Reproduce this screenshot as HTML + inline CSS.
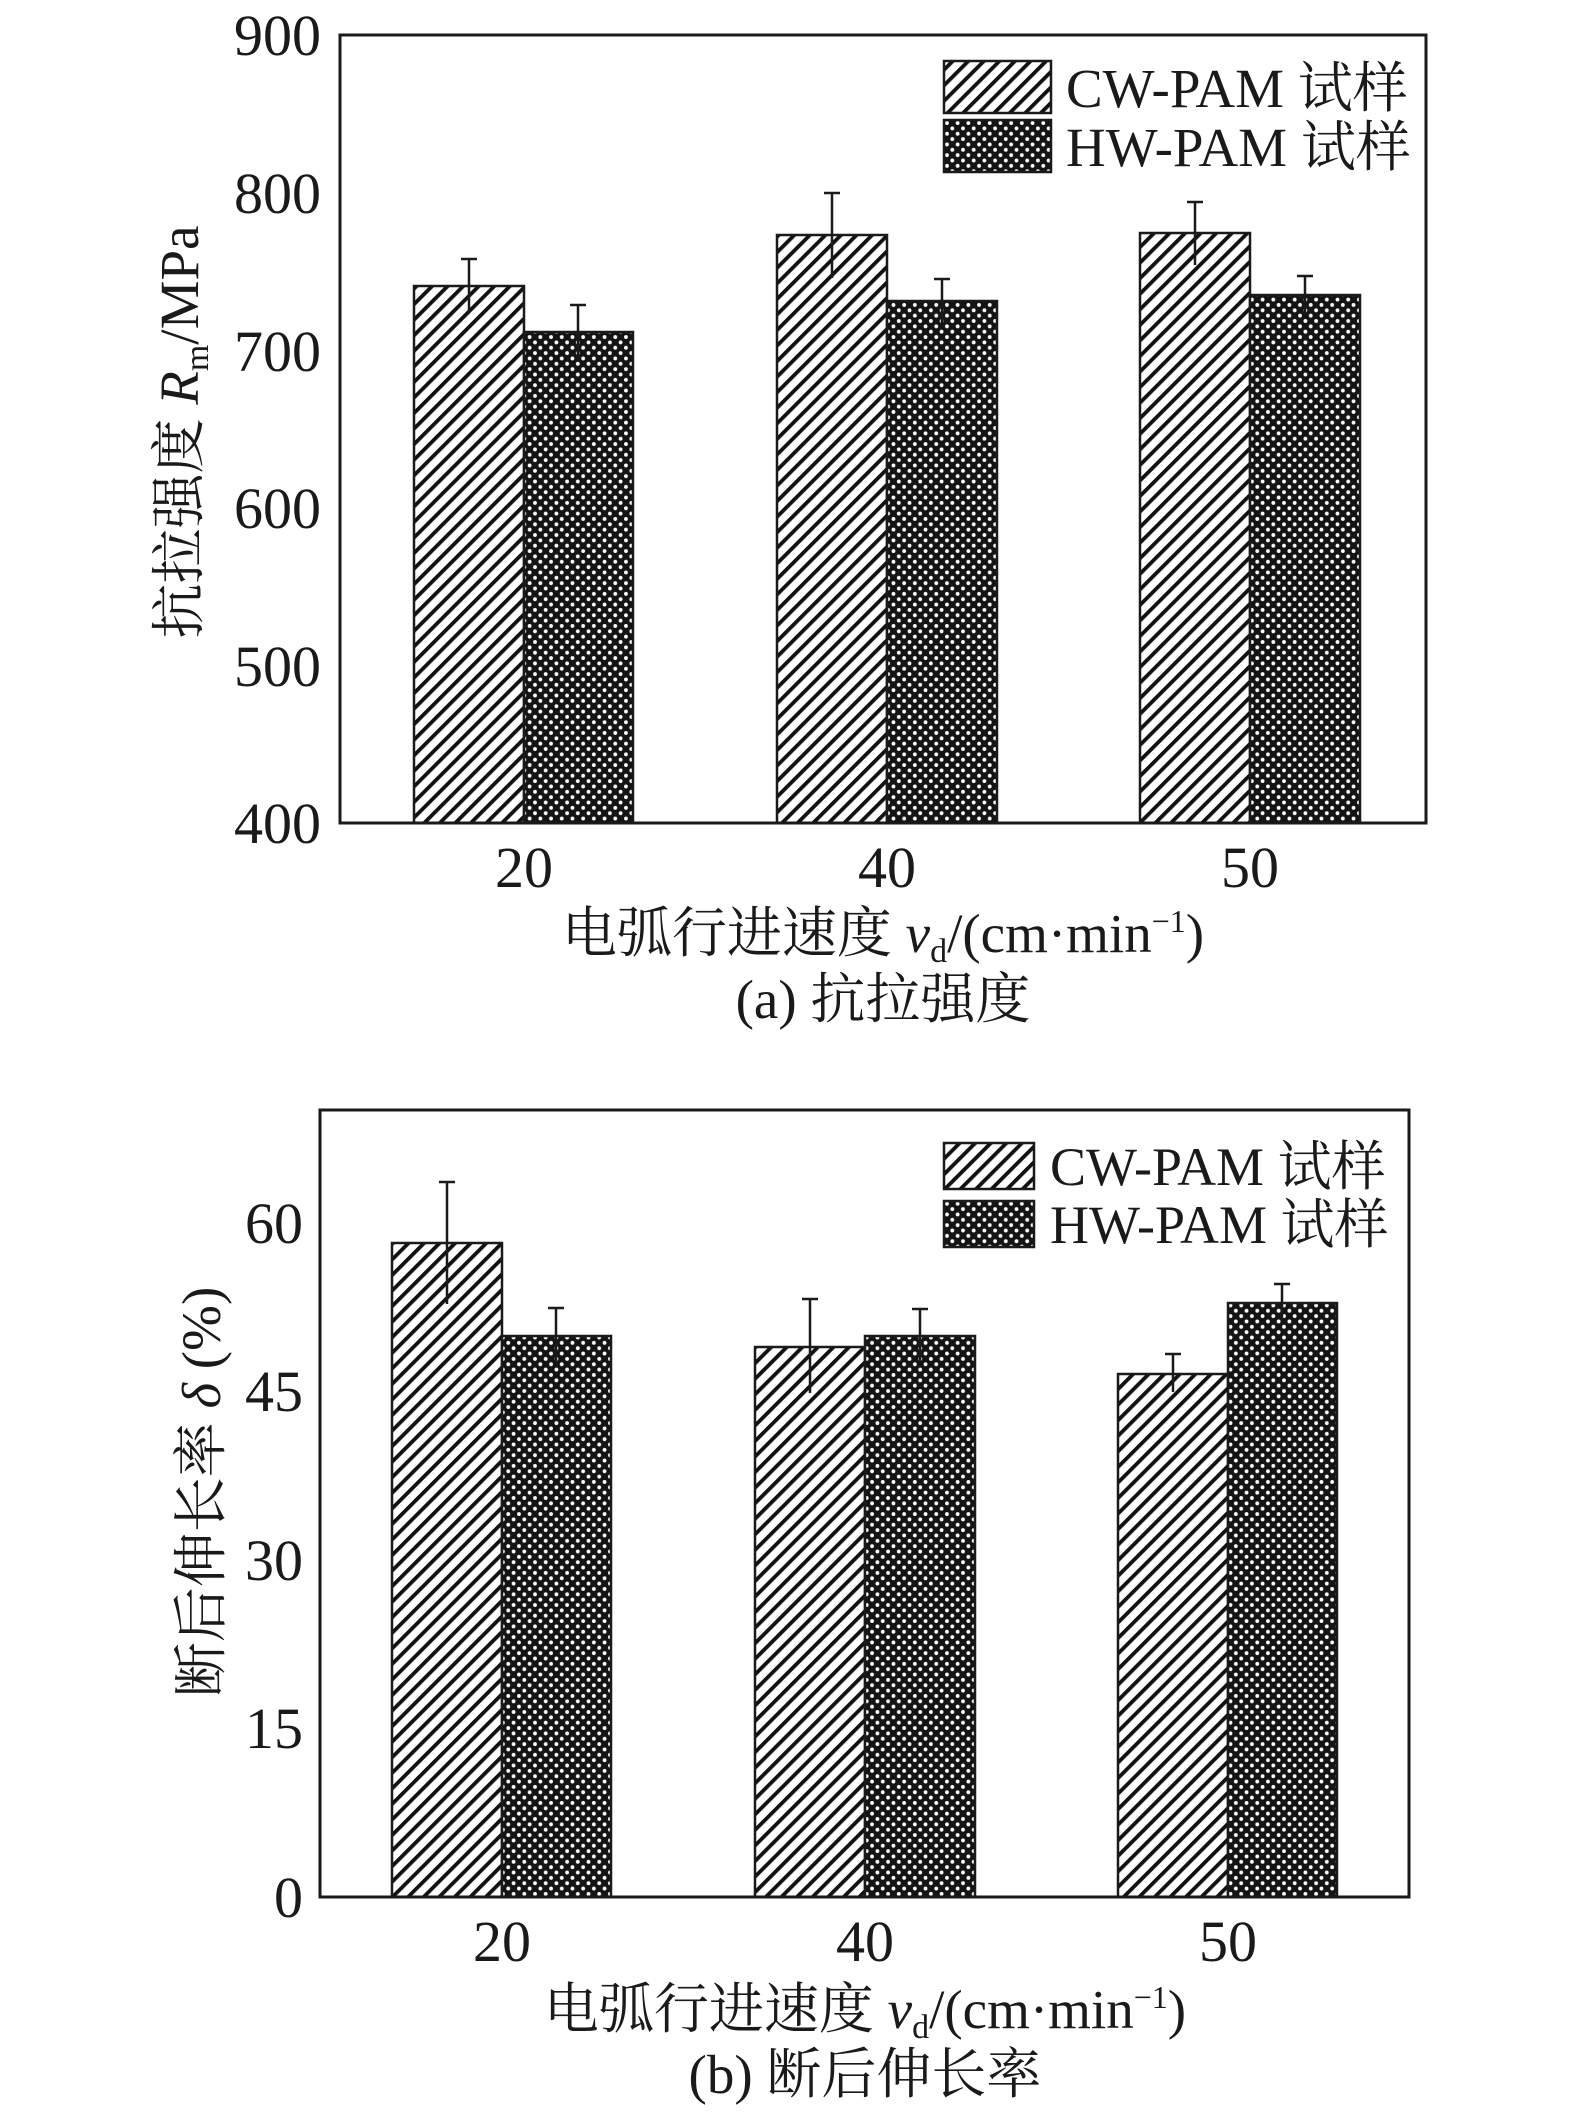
<!DOCTYPE html>
<html><head><meta charset="utf-8"><style>
html,body{margin:0;padding:0;background:#fff;}
svg{display:block;}
text{font-family:"Liberation Serif","Noto Serif CJK SC","Noto Sans CJK SC",serif;fill:#1a1a1a;}
</style></head><body>
<svg width="1575" height="2126" viewBox="0 0 1575 2126" xmlns="http://www.w3.org/2000/svg">
<defs>
<pattern id="hatch" width="11" height="11" patternUnits="userSpaceOnUse" patternTransform="rotate(45)">
<rect width="11" height="11" fill="#fff"/>
<rect x="0" y="0" width="3.8" height="11" fill="#111"/>
</pattern>
<pattern id="cross" width="10.7" height="10.7" patternUnits="userSpaceOnUse">
<rect width="10.7" height="10.7" fill="#141414"/>
<circle cx="0" cy="0" r="1.9" fill="#fff"/>
<circle cx="10.7" cy="0" r="1.9" fill="#fff"/>
<circle cx="0" cy="10.7" r="1.9" fill="#fff"/>
<circle cx="10.7" cy="10.7" r="1.9" fill="#fff"/>
<circle cx="5.35" cy="5.35" r="1.9" fill="#fff"/>
</pattern>
</defs>

<!-- ===== Chart (a) ===== -->
<g stroke="#1a1a1a" stroke-width="2.5">
<rect x="414" y="286" width="110" height="537" fill="url(#hatch)"/>
<rect x="524" y="332" width="109" height="491" fill="url(#cross)"/>
<rect x="777" y="235" width="110" height="588" fill="url(#hatch)"/>
<rect x="887" y="301" width="110" height="522" fill="url(#cross)"/>
<rect x="1140" y="233" width="110" height="590" fill="url(#hatch)"/>
<rect x="1250" y="295" width="110" height="528" fill="url(#cross)"/>
</g>
<g stroke="#1a1a1a" stroke-width="2.5" fill="none">
<path d="M469 259V313M461 259H477"/>
<path d="M578 305V359M570 305H586"/>
<path d="M832 193V278M824 193H840"/>
<path d="M942 279V323M934 279H950"/>
<path d="M1195 202V265M1187 202H1203"/>
<path d="M1305 276V314M1297 276H1313"/>
<rect x="340" y="35" width="1086" height="788" stroke-width="3"/>
</g>
<g font-size="58" text-anchor="end">
<text x="321" y="55">900</text>
<text x="321" y="213">800</text>
<text x="321" y="371">700</text>
<text x="321" y="528">600</text>
<text x="321" y="686">500</text>
<text x="321" y="843">400</text>
</g>
<g font-size="58" text-anchor="middle">
<text x="524" y="887">20</text>
<text x="887" y="887">40</text>
<text x="1250" y="887">50</text>
</g>
<rect x="944" y="61" width="107" height="52" fill="url(#hatch)" stroke="#1a1a1a" stroke-width="2.5"/>
<rect x="944" y="120" width="107" height="52" fill="url(#cross)" stroke="#1a1a1a" stroke-width="2.5"/>
<text x="1066" y="107" font-size="55">CW-PAM 试样</text>
<text x="1066" y="166" font-size="55">HW-PAM 试样</text>
<text x="883" y="952" font-size="55" text-anchor="middle">电弧行进速度 <tspan font-style="italic">v</tspan><tspan font-size="34" dy="10">d</tspan><tspan dy="-10">/(cm·min</tspan><tspan font-size="32" dy="-20">−1</tspan><tspan dy="20">)</tspan></text>
<text x="883" y="1018" font-size="55" text-anchor="middle">(a) 抗拉强度</text>
<text transform="translate(198,432) rotate(-90)" font-size="55" text-anchor="middle">抗拉强度 <tspan font-style="italic">R</tspan><tspan font-size="34" dy="10">m</tspan><tspan dy="-10">/MPa</tspan></text>

<!-- ===== Chart (b) ===== -->
<g stroke="#1a1a1a" stroke-width="2.5">
<rect x="392" y="1243" width="110" height="654" fill="url(#hatch)"/>
<rect x="502" y="1336" width="109" height="561" fill="url(#cross)"/>
<rect x="755" y="1347" width="110" height="550" fill="url(#hatch)"/>
<rect x="865" y="1336" width="110" height="561" fill="url(#cross)"/>
<rect x="1118" y="1374" width="110" height="523" fill="url(#hatch)"/>
<rect x="1228" y="1303" width="109" height="594" fill="url(#cross)"/>
</g>
<g stroke="#1a1a1a" stroke-width="2.5" fill="none">
<path d="M447 1182V1304M439 1182H455"/>
<path d="M556 1308V1364M548 1308H564"/>
<path d="M810 1299V1393M802 1299H818"/>
<path d="M920 1309V1362M912 1309H928"/>
<path d="M1173 1354V1392M1165 1354H1181"/>
<path d="M1282 1284V1320M1274 1284H1290"/>
<rect x="320" y="1110" width="1089" height="787" stroke-width="3"/>
</g>
<g font-size="58" text-anchor="end">
<text x="303" y="1243">60</text>
<text x="303" y="1411">45</text>
<text x="303" y="1580">30</text>
<text x="303" y="1748">15</text>
<text x="303" y="1917">0</text>
</g>
<g font-size="58" text-anchor="middle">
<text x="502" y="1961">20</text>
<text x="865" y="1961">40</text>
<text x="1228" y="1961">50</text>
</g>
<rect x="944" y="1143" width="90" height="46" fill="url(#hatch)" stroke="#1a1a1a" stroke-width="2.5"/>
<rect x="944" y="1201" width="90" height="46" fill="url(#cross)" stroke="#1a1a1a" stroke-width="2.5"/>
<text x="1050" y="1185" font-size="54">CW-PAM 试样</text>
<text x="1050" y="1243" font-size="54">HW-PAM 试样</text>
<text x="865" y="2028" font-size="55" text-anchor="middle">电弧行进速度 <tspan font-style="italic">v</tspan><tspan font-size="34" dy="10">d</tspan><tspan dy="-10">/(cm·min</tspan><tspan font-size="32" dy="-20">−1</tspan><tspan dy="20">)</tspan></text>
<text x="865" y="2093" font-size="55" text-anchor="middle">(b) 断后伸长率</text>
<text transform="translate(220,1492) rotate(-90)" font-size="55" text-anchor="middle">断后伸长率 <tspan font-style="italic">δ</tspan> (%)</text>
</svg>
</body></html>
